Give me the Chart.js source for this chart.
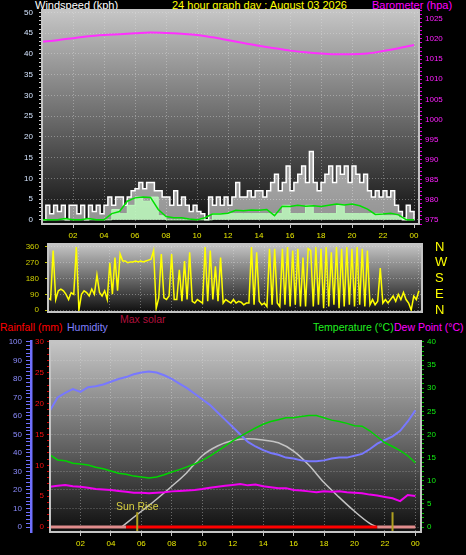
<!DOCTYPE html>
<html>
<head>
<meta charset="utf-8">
<script src="https://cdn.jsdelivr.net/npm/chart.js@4/dist/chart.umd.min.js"></script>
<style>
  body { margin:0; background:#000; width:466px; height:555px; overflow:hidden; position:relative;
         font-family:"Liberation Sans", Arial, sans-serif; }
  canvas { position:absolute; left:0; }
  .lbl { position:absolute; white-space:nowrap; font-size:11px; line-height:11px; }
  .low { font-size:10.5px; line-height:10.5px; }
</style>
</head>
<body>
<div class="lbl" style="left:35px;top:0;color:#fff">Windspeed (kph)</div>
<div class="lbl" style="left:172px;top:0;color:#ffff00">24 hour graph day : August 03 2026</div>
<div class="lbl" style="left:372px;top:0;color:#ff00ff">Barometer (hpa)</div>
<div class="lbl low" style="left:0;top:322px;color:#ff0000">Rainfall (mm)</div>
<div class="lbl low" style="left:67px;top:322px;color:#8080ff">Humidity</div>
<div class="lbl low" style="left:120px;top:314px;color:#b0103c">Max solar</div>
<div class="lbl low" style="left:313px;top:322px;color:#20f020">Temperature (°C)</div>
<div class="lbl low" style="left:394px;top:322px;color:#ff00ff">Dew Point (°C)</div>

<canvas id="cTop" width="466" height="245" style="top:0"></canvas>
<canvas id="cDir" width="466" height="80" style="top:240px"></canvas>
<canvas id="cBot" width="466" height="225" style="top:330px"></canvas>

<script>
// ---- data ----
const hourTicks = [2, 4, 6, 8, 10, 12, 14, 16, 18, 20, 22, 24];
const windTicks = [0, 5, 10, 15, 20, 25, 30, 35, 40, 45, 50];
const pressTicks = [975, 980, 985, 990, 995, 1000, 1005, 1010, 1015, 1020, 1025];
const dirTicks = [0, 90, 180, 270, 360];
const compass = ['N', 'E', 'S', 'W', 'N'];
const humTicks = [0, 10, 20, 30, 40, 50, 60, 70, 80, 90, 100];
const rainTicks = [0, 5, 10, 15, 20, 25, 30];
const tempTicks = [0, 5, 10, 15, 20, 25, 30, 35, 40];

// hourly, 00:00 .. 24:00
const pressure = [1019.3, 1019.7, 1020.2, 1020.7, 1021.0, 1021.2, 1021.4, 1021.6, 1021.5, 1021.3,
  1021.0, 1020.4, 1019.7, 1019.0, 1018.3, 1017.7, 1017.1, 1016.7, 1016.4, 1016.2,
  1016.2, 1016.4, 1017.0, 1017.7, 1018.5];

// every 15 minutes
const windGust = [
  0, 3.5, 1.5, 3.5,   2, 3.5, 0, 3.5,   3.5, 1.5, 3.5, 0,   3.5, 2, 3.5, 1.5,
  3.5, 5.5, 3.5, 5.5,  5.5, 3.5, 5.5, 7,  7.5, 9, 7.5, 9,   9, 7, 7, 5.5,
  5.5, 3.5, 7, 3.5,   5.5, 3.5, 2, 3.5,   2, 1.5, 0, 5.5,   3.5, 5.5, 3.5, 5.5,
  3.5, 5.5, 9, 5.5,   5.5, 7, 5.5, 7,   7, 5.5, 7, 9,   11, 7, 9, 13,
  7, 9, 11, 13,   9, 16.5, 9, 7,   9, 11, 13, 9,   13, 11, 13, 9,
  13, 11, 9, 11,   7, 5.5, 7, 5.5,   7, 5.5, 7, 3.5,   2, 0, 3.5, 2,
  0];

// every 30 minutes
const windSpeed = [0, 0, 0, 0, 0, 0, 0, 0, 0, 2.5, 1.5, 3.5, 5.5, 4.5, 5.5, 1, 0, 0, 0, 0,
  0, 0, 1.5, 1.5, 1.5, 1.5, 1.5, 1.5, 1.5, 1.5, 1.5, 3.5, 1.5, 1.5, 3.5, 1.5, 1.5, 1.5, 3.5, 1.5,
  1.5, 1.5, 1.5, 1.5, 1, 1, 0.5, 0, 0];
const windAvg = [0, 0, 0, 0.3, 0, 0, 0.3, 0, 0, 1.5, 2, 4.5, 5.3, 5.5, 5.4, 2.5, 0.8, 0.5, 0.5, 0.2,
  0, 0.5, 1.4, 1.4, 1.6, 2.3, 2.2, 2.4, 2.3, 2.5, 1, 3.3, 3.2, 3.5, 3.3, 3.4, 3.2, 3.5, 3.8, 3.6,
  3.8, 3.4, 2.6, 1.3, 1.4, 1.6, 1.2, 0, 0];

// wind direction, every 10 minutes
const windDir = [
  70, 60, 340, 60, 110, 120,   110, 90, 60, 100, 90, 360,   0, 90, 110, 100, 80, 120,
  90, 200, 100, 80, 110, 60,   270, 90, 300, 110, 320, 280,   280, 270, 275, 275, 280, 275,
  280, 275, 280, 285, 290, 340,   10, 70, 320, 70, 60, 80,   320, 60, 60, 230, 50, 280,
  60, 330, 50, 40, 60, 50,   40, 360, 50, 340, 60, 250,   50, 300, 40, 60, 50, 40,
  60, 40, 50, 45, 30, 40,   40, 360, 30, 330, 50, 30,   40, 20, 350, 30, 350, 40,
  20, 350, 30, 360, 20, 340,   30, 350, 20, 300, 20, 350,   340, 20, 360, 30, 350, 10,
  360, 20, 330, 30, 360, 10,   350, 20, 360, 30, 350, 20,   360, 30, 350, 20, 340, 30,
  60, 30, 50, 240, 40, 60,   40, 60, 80, 50, 90, 60,   100, 60, 40, 0, 80, 60,
  110];

// every 30 minutes
const humidity = [63, 70, 72.5, 74.5, 73, 75.5, 76, 77, 78.5, 80, 81, 82.5, 83.5, 84, 83.5, 82,
  80, 77.5, 75, 72, 69, 66, 62, 58, 54, 50, 46, 43.5, 41.5, 40, 39, 37.5, 37, 36, 35.5, 35.5,
  36, 37, 37.5, 37.5, 38.5, 39.5, 42, 45, 47, 49, 52, 57, 63];
const temperature = [15.6, 14.5, 14.3, 13.8, 13.6, 13.4, 12.9, 12.6, 12.1, 11.6, 11.4, 11.0, 10.8,
  10.6, 10.8, 11.3, 11.9, 12.4, 13.0, 13.6, 14.4, 15.3, 16.4, 17.5, 18.6, 19.6, 20.5, 21.4, 22.2,
  22.8, 23.2, 23.6, 23.6, 23.9, 24.1, 24.1, 23.6, 23.1, 22.8, 22.4, 21.9, 21.8, 20.8, 19.5, 18.2,
  17.4, 16.5, 15.4, 13.9];
const dewPoint = [8.7, 8.9, 9.1, 8.8, 8.7, 8.5, 8.2, 8.1, 8.0, 7.8, 7.6, 7.4, 7.4, 7.3, 7.4, 7.5,
  7.7, 7.8, 7.9, 8.0, 8.2, 8.5, 8.7, 8.9, 9.1, 9.3, 9.0, 9.2, 8.8, 8.6, 8.4, 8.4, 8.0, 7.9, 7.7,
  7.5, 7.7, 7.6, 7.7, 7.5, 7.4, 7.3, 7.0, 6.8, 6.5, 6.2, 5.6, 6.9, 6.7];
// every 30 minutes
const rainfall = [0, 0, 0, 0, 0, 0, 0, 0, 0, 0, 0, 0, 0, 0, 0, 0, 0, 0, 0, 0, 0, 0, 0, 0, 0,
  0, 0, 0, 0, 0, 0, 0, 0, 0, 0, 0, 0, 0, 0, 0, 0, 0, 0, 0, 0, 0, 0, 0, 0];

const solarHours = [4.7, 5, 6, 7, 8, 9, 10, 11, 12, 13, 14, 15, 16, 17, 18, 19, 20, 21, 21.5];
const maxSolar = [0, 40, 170, 300, 440, 590, 770, 875, 935, 954, 940, 910, 820, 670, 480, 320, 170, 40, 0];

const sunMarkers = [5.73, 22.5];

// ---- helpers ----
const pts = (vals, step) => vals.map((v, i) => ({ x: i * step, y: v }));
const range = (a, b, s) => { const r = []; for (let v = a; v <= b + 1e-9; v += s) r.push(+v.toFixed(2)); return r; };
const hourLabel = v => String(v % 24).padStart(2, '0');
const dotted = 'rgba(230,230,230,0.38)';

Chart.defaults.font.family = '"Liberation Sans", Arial, sans-serif';

const panel = {
  id: 'panel',
  beforeDraw(chart) {
    const a = chart.chartArea, c = chart.ctx;
    const g = c.createLinearGradient(0, a.top, 0, a.bottom);
    g.addColorStop(0, '#c6c6c6');
    g.addColorStop(0.5, '#6c6c6c');
    g.addColorStop(1, '#0e0e0e');
    c.save();
    c.fillStyle = g;
    c.fillRect(a.left, a.top, a.right - a.left, a.bottom - a.top);
    c.restore();
  },
  afterDraw(chart) {
    const a = chart.chartArea, c = chart.ctx;
    c.save();
    c.strokeStyle = '#c4c4c4';
    c.lineWidth = 2;
    c.strokeRect(a.left, a.top, a.right - a.left, a.bottom - a.top);
    c.restore();
  }
};

// fixed box width, no extra label overhang so the plot area sits where layout.padding says
const fixWidth = w => s => { s.width = w; s.paddingTop = 0; s.paddingBottom = 0; };

function hourAxis(max, height, showLabels) {
  return {
    type: 'linear', min: 0, max: max,
    afterBuildTicks: s => { s.ticks = hourTicks.map(v => ({ value: v })); },
    afterFit: s => { s.height = height; },
    ticks: { display: showLabels, color: '#e8e800', font: { size: 8 }, autoSkip: false, maxRotation: 0,
             padding: 3, callback: v => hourLabel(v) },
    grid: { color: dotted, tickLength: showLabels ? 4 : 0, drawTicks: showLabels, tickColor: '#c0c0c0' },
    border: { display: false, dash: [1, 2] }
  };
}

function valueAxis(pos, min, max, minor, labels, color, tickColor, width, pad, onArea) {
  return {
    position: pos, min: min, max: max,
    afterBuildTicks: s => { s.ticks = range(minor[0], minor[1], minor[2]).map(v => ({ value: v })); },
    afterFit: fixWidth(width),
    ticks: { color: color, font: { size: 8 }, autoSkip: false, padding: pad,
             callback: v => labels.includes(v) ? String(v) : '' },
    grid: { drawOnChartArea: onArea, tickLength: 3, tickColor: tickColor,
            color: ctx => labels.includes(ctx.tick && ctx.tick.value) ? dotted : 'rgba(0,0,0,0)' },
    border: { display: false, dash: [1, 2] }
  };
}

const base = {
  responsive: false, animation: false, events: [],
  plugins: { legend: { display: false }, tooltip: { enabled: false } }
};

// ---- top: wind speed + barometer ----
new Chart(document.getElementById('cTop'), {
  type: 'line',
  data: {
    datasets: [
      { label: 'Barometer', data: pts(pressure, 1), yAxisID: 'yP', borderColor: '#ff30ff', borderWidth: 2,
        pointRadius: 0, cubicInterpolationMode: 'monotone', order: 0 },
      { label: 'Average speed', data: pts(windAvg, 0.5), yAxisID: 'yW', borderColor: '#00e000', borderWidth: 1.5,
        pointRadius: 0, order: 1 },
      { label: 'Wind speed', data: pts(windSpeed, 0.5), yAxisID: 'yW', borderColor: 'rgba(190,255,190,0.9)',
        backgroundColor: 'rgba(190,255,190,0.8)', borderWidth: 1, stepped: true, fill: 'origin', pointRadius: 0, order: 2 },
      { label: 'Gust', data: pts(windGust, 0.25), yAxisID: 'yW', borderColor: '#ffffff',
        backgroundColor: 'rgba(255,255,255,0.55)', borderWidth: 1.5, stepped: true, fill: 'origin', pointRadius: 0, order: 3 }
    ]
  },
  options: Object.assign({}, base, {
    layout: { padding: { top: 10, left: 0, right: 0, bottom: 0 } },
    scales: {
      x: hourAxis(24.32, 21, true),
      yW: valueAxis('left', -1, 50.6, [0, 50, 1], windTicks, '#d4e4ff', '#d0d0d0', 42, 6, true),
      yP: valueAxis('right', 974, 1027.2, [974, 1027, 1], pressTicks, '#ff20ff', '#e000e0', 47, 3, false)
    }
  }),
  plugins: [panel]
});

// ---- middle: wind direction ----
const dirLeft = valueAxis('left', -11, 377, [0, 360, 90], dirTicks, '#d0d000', '#c0c000', 48, 6, true);
new Chart(document.getElementById('cDir'), {
  type: 'line',
  data: {
    datasets: [
      { label: 'Direction', data: pts(windDir, 1 / 6), yAxisID: 'yD', borderColor: '#ffff00', borderWidth: 1.5,
        pointRadius: 0 }
    ]
  },
  options: Object.assign({}, base, {
    layout: { padding: { top: 4, left: 0, right: 0, bottom: 0 } },
    scales: {
      x: hourAxis(24.2, 8, false),
      yD: dirLeft,
      yC: {
        position: 'right', min: -11, max: 377,
        afterBuildTicks: s => { s.ticks = dirTicks.map(v => ({ value: v })); },
        afterFit: fixWidth(44),
        ticks: { color: '#ffff00', font: { size: 13 }, padding: 13, autoSkip: false,
                 callback: (v, i) => compass[i] },
        grid: { drawOnChartArea: false, drawTicks: false },
        border: { display: false }
      }
    }
  }),
  plugins: [panel]
});

// ---- bottom: temperature, humidity, rain, solar ----
const sunPlugin = {
  id: 'sun',
  afterDatasetsDraw(chart) {
    const c = chart.ctx, xs = chart.scales.x, yh = chart.scales.yH, a = chart.chartArea;
    c.save();
    c.strokeStyle = '#b0a020';
    c.lineWidth = 2;
    sunMarkers.forEach(h => {
      const x = xs.getPixelForValue(h);
      c.beginPath();
      c.moveTo(x, yh.getPixelForValue(8));
      c.lineTo(x, a.bottom);
      c.stroke();
    });
    c.fillStyle = '#d8d040';
    c.font = '10.5px "Liberation Sans", Arial, sans-serif';
    c.textAlign = 'center';
    c.fillText('Sun Rise', xs.getPixelForValue(sunMarkers[0]), yh.getPixelForValue(8) - 2);
    c.restore();
  }
};

const night = ctx => (ctx.p0.parsed.x < solarHours[0] || ctx.p1.parsed.x > solarHours[solarHours.length - 1]) ? '#e08c8c' : '#ff0000';

const humAxis = valueAxis('left', -2.7, 100.5, [0, 100, 2], humTicks, '#8c8cff', '#7070ff', 31, 4, true);
humAxis.weight = 2;
humAxis.grid.tickLength = 5;
humAxis.border = { display: true, color: '#7070ff', width: 2.5, dash: [1, 2] };
const rainAxis = valueAxis('left', -0.81, 30.16, [0, 30, 1], rainTicks, '#ff1010', '#d00000', 19, 3, false);
rainAxis.weight = 1;
const tempAxis = valueAxis('right', -1.08, 40.2, [0, 40, 1], tempTicks, '#10f010', '#00c000', 45, 3, false);

new Chart(document.getElementById('cBot'), {
  type: 'line',
  data: {
    datasets: [
      { label: 'Rainfall', data: pts(rainfall, 0.5), yAxisID: 'yR', borderColor: '#ff0000', borderWidth: 3,
        pointRadius: 0, segment: { borderColor: night }, order: 0 },
      { label: 'Dew Point', data: pts(dewPoint, 0.5), yAxisID: 'yT', borderColor: '#f000f0', borderWidth: 2,
        pointRadius: 0, order: 1 },
      { label: 'Temperature', data: pts(temperature, 0.5), yAxisID: 'yT', borderColor: '#00d400', borderWidth: 1.5,
        pointRadius: 0, order: 2 },
      { label: 'Humidity', data: pts(humidity, 0.5), yAxisID: 'yH', borderColor: '#7878ff', borderWidth: 2,
        pointRadius: 0, order: 3 },
      { label: 'Max solar', data: solarHours.map((h, i) => ({ x: h, y: maxSolar[i] })), yAxisID: 'yS',
        borderColor: '#c4c4c4', borderWidth: 1.5, pointRadius: 0, cubicInterpolationMode: 'monotone', order: 4 }
    ]
  },
  options: Object.assign({}, base, {
    layout: { padding: { top: 11, left: 0, right: 0, bottom: 0 } },
    scales: {
      x: hourAxis(24.37, 23, true),
      yH: humAxis,
      yR: rainAxis,
      yT: tempAxis,
      yS: { display: false, min: -54, max: 2010 }
    }
  }),
  plugins: [panel, sunPlugin]
});
</script>
</body>
</html>
